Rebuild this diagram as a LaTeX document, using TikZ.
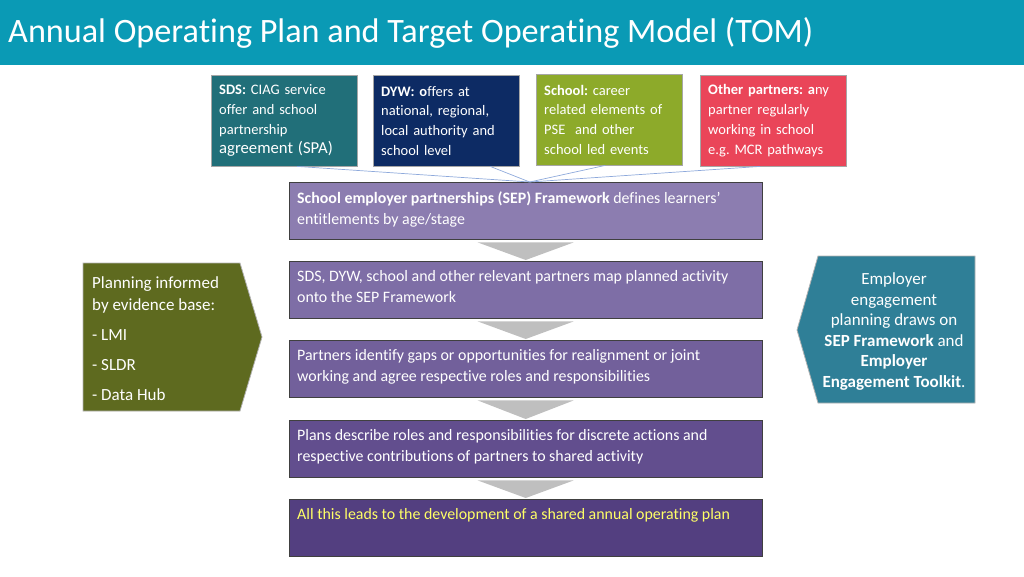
\documentclass[tikz,border=0pt]{standalone}
\usepackage{fontspec}
\setmainfont{Carlito}[Ligatures=NoCommon]
\usetikzlibrary{calc}
\definecolor{titleblue}{HTML}{0A9AB5}
\definecolor{sdscol}{HTML}{216F79}
\definecolor{dywcol}{HTML}{0D2B64}
\definecolor{schoolcol}{HTML}{8DAA2A}
\definecolor{othercol}{HTML}{EA4559}
\definecolor{olivecol}{HTML}{5E6A1F}
\definecolor{tealcol}{HTML}{2F7F97}
\definecolor{purpA}{HTML}{8C7DB0}
\definecolor{purpB}{HTML}{7E6EA6}
\definecolor{purpC}{HTML}{72609B}
\definecolor{purpD}{HTML}{624E8E}
\definecolor{purpE}{HTML}{533F80}
\definecolor{linkcol}{HTML}{8EA9DB}
\definecolor{arrowgrey}{HTML}{BFBFBF}
\definecolor{aoptextcol}{HTML}{FFFF66}
\begin{document}
\frenchspacing
\begin{tikzpicture}[x=1pt, y=-1pt,
	partner/.style={draw=gray!70, anchor=north west, minimum width=146, minimum height=91,
		text width=130, inner sep=0, align=left, text=white, font=\fontsize{14.5}{19.7}\selectfont},
	stage/.style={draw=black!75, anchor=north west, minimum width=473, minimum height=57, inner sep=0},
	stagetext/.style={anchor=north west, inner sep=0, align=left, text=white, font=\fontsize{15.9}{21}\selectfont},
	link/.style={draw=linkcol, line width=0.7pt},
	downtri/.style={fill=arrowgrey},
	sidearrow/.style={draw=gray!60, line width=0.8pt}]
	\useasboundingbox (0,0) rectangle (1024,576);
	% title band
	\fill[titleblue] (0,0) rectangle (1024,65);
	\node[anchor=west, text=white, font=\fontsize{34.2}{40}\selectfont, inner sep=0] (title) at (8,33)
		{Annual Operating Plan and Target Operating Model (TOM)};
	% partner boxes
	\node[partner, fill=sdscol] (sds) at (211,75)
		{\textbf{SDS:} CIAG service\\offer and school\\partnership\\{\fontsize{16.7}{19.7}\selectfont agreement (SPA)}};
	\node[partner, fill=dywcol] (dyw) at (373,75)
		{\textbf{DYW: o}ffers at\\national, regional,\\local authority and\\school level};
	\node[partner, fill=schoolcol] (school) at (536,74)
		{\textbf{School:} career\\related elements of\\PSE\ \ and other\\school led events};
	\node[partner, fill=othercol] (other) at (700,75)
		{\textbf{Other partners: a}ny\\partner regularly\\working in school\\e.g. MCR pathways};
	% stages
	\node[stage, fill=purpA] (sep) at (289,182) {};
	\node[stage, fill=purpB] (map) at (289,261) {};
	\node[stage, fill=purpC] (gaps) at (289,340) {};
	\node[stage, fill=purpD] (plans) at (289,420) {};
	\node[stage, fill=purpE] (aop) at (289,499) {};
	\node[stagetext] (septext) at ([shift={(8,9)}]sep.north west)
		{\textbf{School employer partnerships (SEP) Framework} defines learners’\\entitlements by age/stage};
	\node[stagetext] (maptext) at ([shift={(8,9)}]map.north west)
		{SDS, DYW, school and other relevant partners map planned activity\\onto the SEP Framework};
	\node[stagetext] (gapstext) at ([shift={(8,9)}]gaps.north west)
		{Partners identify gaps or opportunities for realignment or joint\\working and agree respective roles and responsibilities};
	\node[stagetext] (planstext) at ([shift={(8,9)}]plans.north west)
		{Plans describe roles and responsibilities for discrete actions and\\respective contributions of partners to shared activity};
	\node[stagetext, text=aoptextcol] (aoptext) at ([shift={(8,9)}]aop.north west)
		{All this leads to the development of a shared annual operating plan};
	% links from partners
	\draw[link] ([xshift=13]sds.south) -- ([xshift=4]sep.north);
	\draw[link] ([xshift=44]dyw.south) -- ([xshift=4]sep.north);
	\draw[link] ([xshift=-4]school.south) -- ([xshift=4]sep.north);
	\draw[link] ([xshift=-13]other.south) -- ([xshift=4]sep.north);
	% grey down arrows
	\foreach \a/\b in {sep/map, map/gaps, gaps/plans, plans/aop}{
		\fill[downtri] ($(\a.south)+(-48,3)$) -- ($(\a.south)+(48,3)$) -- ($(\b.north)+(0,-1)$) -- cycle;
	}
	% side arrows
	\draw[sidearrow, fill=olivecol] (83,263) -- (240,263) -- (262,337) -- (240,411) -- (83,411) -- cycle;
	\node[anchor=north west, text=white, align=left, inner sep=0, font=\fontsize{17}{22}\selectfont] (evidence) at (92,276)
		{Planning informed\\by evidence base:\\[8pt]- LMI\\[8pt]- SLDR\\[8pt]- Data Hub};
	\draw[sidearrow, fill=tealcol] (975,256) -- (818,256) -- (797,330) -- (818,403) -- (975,403) -- cycle;
	\node[text=white, align=center, inner sep=0, font=\fontsize{17}{20.6}\selectfont] (employer) at (894,331.5)
		{Employer\\engagement\\planning draws on\\\textbf{SEP Framework} and\\\textbf{Employer}\\\textbf{Engagement Toolkit}.};
\end{tikzpicture}
\end{document}
